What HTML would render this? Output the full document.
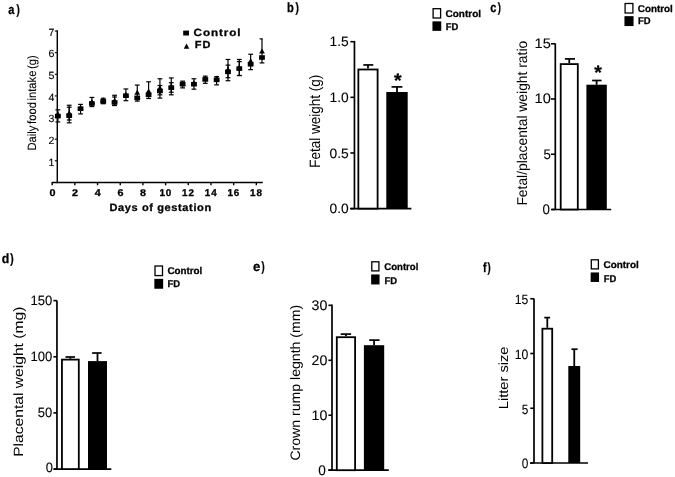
<!DOCTYPE html>
<html><head><meta charset="utf-8"><style>
html,body{margin:0;padding:0;background:#fff;}
body{width:675px;height:477px;overflow:hidden;}
svg{display:block;filter:blur(0.35px);}
text{font-family:"Liberation Sans", sans-serif;text-rendering:geometricPrecision;}
</style></head><body>
<svg width="675" height="477" viewBox="0 0 675 477">
<rect width="675" height="477" fill="#fff"/>
<text x="8.18" y="13.60" font-size="13.3" font-weight="bold" stroke="#000" stroke-width="0.28" text-anchor="start" textLength="6.15" lengthAdjust="spacingAndGlyphs" fill="#000">a</text>
<text x="16.59" y="13.60" font-size="13.3" font-weight="bold" stroke="#000" stroke-width="0.28" text-anchor="start" textLength="3.30" lengthAdjust="spacingAndGlyphs" fill="#000">)</text>
<line x1="57.30" y1="30.20" x2="57.30" y2="183.20" stroke="#000" stroke-width="1.45"/>
<line x1="51.60" y1="182.40" x2="262.80" y2="182.40" stroke="#000" stroke-width="1.5"/>
<line x1="54.80" y1="160.78" x2="57.30" y2="160.78" stroke="#000" stroke-width="1.1"/>
<text x="54.40" y="165.58" font-size="10.4" stroke="#000" stroke-width="0.1" text-anchor="end" textLength="5.90" lengthAdjust="spacingAndGlyphs" fill="#000">1</text>
<line x1="54.80" y1="139.16" x2="57.30" y2="139.16" stroke="#000" stroke-width="1.1"/>
<text x="54.40" y="143.96" font-size="10.4" stroke="#000" stroke-width="0.1" text-anchor="end" textLength="5.90" lengthAdjust="spacingAndGlyphs" fill="#000">2</text>
<line x1="54.80" y1="117.54" x2="57.30" y2="117.54" stroke="#000" stroke-width="1.1"/>
<text x="54.40" y="122.34" font-size="10.4" stroke="#000" stroke-width="0.1" text-anchor="end" textLength="5.90" lengthAdjust="spacingAndGlyphs" fill="#000">3</text>
<line x1="54.80" y1="95.92" x2="57.30" y2="95.92" stroke="#000" stroke-width="1.1"/>
<text x="54.40" y="100.72" font-size="10.4" stroke="#000" stroke-width="0.1" text-anchor="end" textLength="5.90" lengthAdjust="spacingAndGlyphs" fill="#000">4</text>
<line x1="54.80" y1="74.30" x2="57.30" y2="74.30" stroke="#000" stroke-width="1.1"/>
<text x="54.40" y="79.10" font-size="10.4" stroke="#000" stroke-width="0.1" text-anchor="end" textLength="5.90" lengthAdjust="spacingAndGlyphs" fill="#000">5</text>
<line x1="54.80" y1="52.68" x2="57.30" y2="52.68" stroke="#000" stroke-width="1.1"/>
<text x="54.40" y="57.48" font-size="10.4" stroke="#000" stroke-width="0.1" text-anchor="end" textLength="5.90" lengthAdjust="spacingAndGlyphs" fill="#000">6</text>
<line x1="54.80" y1="31.06" x2="57.30" y2="31.06" stroke="#000" stroke-width="1.1"/>
<text x="54.40" y="35.86" font-size="10.4" stroke="#000" stroke-width="0.1" text-anchor="end" textLength="5.90" lengthAdjust="spacingAndGlyphs" fill="#000">7</text>
<line x1="52.20" y1="182.50" x2="52.20" y2="185.30" stroke="#000" stroke-width="1.4"/>
<text x="52.40" y="195.50" font-size="9.8" font-weight="bold" stroke="#000" stroke-width="0.3" text-anchor="middle" textLength="6.00" lengthAdjust="spacingAndGlyphs" fill="#000">0</text>
<line x1="74.88" y1="182.50" x2="74.88" y2="185.30" stroke="#000" stroke-width="1.4"/>
<text x="75.08" y="195.50" font-size="9.8" font-weight="bold" stroke="#000" stroke-width="0.3" text-anchor="middle" textLength="6.00" lengthAdjust="spacingAndGlyphs" fill="#000">2</text>
<line x1="97.56" y1="182.50" x2="97.56" y2="185.30" stroke="#000" stroke-width="1.4"/>
<text x="97.76" y="195.50" font-size="9.8" font-weight="bold" stroke="#000" stroke-width="0.3" text-anchor="middle" textLength="6.00" lengthAdjust="spacingAndGlyphs" fill="#000">4</text>
<line x1="120.24" y1="182.50" x2="120.24" y2="185.30" stroke="#000" stroke-width="1.4"/>
<text x="120.44" y="195.50" font-size="9.8" font-weight="bold" stroke="#000" stroke-width="0.3" text-anchor="middle" textLength="6.00" lengthAdjust="spacingAndGlyphs" fill="#000">6</text>
<line x1="142.92" y1="182.50" x2="142.92" y2="185.30" stroke="#000" stroke-width="1.4"/>
<text x="143.12" y="195.50" font-size="9.8" font-weight="bold" stroke="#000" stroke-width="0.3" text-anchor="middle" textLength="6.00" lengthAdjust="spacingAndGlyphs" fill="#000">8</text>
<line x1="165.60" y1="182.50" x2="165.60" y2="185.30" stroke="#000" stroke-width="1.4"/>
<text x="165.80" y="195.50" font-size="9.8" font-weight="bold" letter-spacing="0.9" stroke="#000" stroke-width="0.3" text-anchor="middle" textLength="12.80" lengthAdjust="spacingAndGlyphs" fill="#000">10</text>
<line x1="188.28" y1="182.50" x2="188.28" y2="185.30" stroke="#000" stroke-width="1.4"/>
<text x="188.48" y="195.50" font-size="9.8" font-weight="bold" letter-spacing="0.9" stroke="#000" stroke-width="0.3" text-anchor="middle" textLength="12.80" lengthAdjust="spacingAndGlyphs" fill="#000">12</text>
<line x1="210.96" y1="182.50" x2="210.96" y2="185.30" stroke="#000" stroke-width="1.4"/>
<text x="211.16" y="195.50" font-size="9.8" font-weight="bold" letter-spacing="0.9" stroke="#000" stroke-width="0.3" text-anchor="middle" textLength="12.80" lengthAdjust="spacingAndGlyphs" fill="#000">14</text>
<line x1="233.64" y1="182.50" x2="233.64" y2="185.30" stroke="#000" stroke-width="1.4"/>
<text x="233.84" y="195.50" font-size="9.8" font-weight="bold" letter-spacing="0.9" stroke="#000" stroke-width="0.3" text-anchor="middle" textLength="12.80" lengthAdjust="spacingAndGlyphs" fill="#000">16</text>
<line x1="256.32" y1="182.50" x2="256.32" y2="185.30" stroke="#000" stroke-width="1.4"/>
<text x="256.52" y="195.50" font-size="9.8" font-weight="bold" letter-spacing="0.9" stroke="#000" stroke-width="0.3" text-anchor="middle" textLength="12.80" lengthAdjust="spacingAndGlyphs" fill="#000">18</text>
<text x="109.40" y="210.90" font-size="10.6" font-weight="bold" stroke="#000" stroke-width="0.28" letter-spacing="0.6" text-anchor="start" textLength="102.40" lengthAdjust="spacingAndGlyphs" fill="#000">Days of gestation</text>
<text transform="translate(35.80,150.50) rotate(-90)" x="0" y="0" font-size="12.0" word-spacing="-1.6" stroke="#000" stroke-width="0.1" text-anchor="start" textLength="95.30" lengthAdjust="spacingAndGlyphs" fill="#000">Daily food intake (g)</text>
<rect x="183.20" y="30.60" width="5.80" height="4.90" fill="#000"/>
<polygon points="186.5,43.6 183.8,48.8 189.3,48.8" fill="#000"/>
<text x="193.60" y="36.10" font-size="10.4" font-weight="bold" stroke="#000" stroke-width="0.28" letter-spacing="0.8" text-anchor="start" textLength="47.80" lengthAdjust="spacingAndGlyphs" fill="#000">Control</text>
<text x="194.80" y="48.40" font-size="10.2" font-weight="bold" stroke="#000" stroke-width="0.28" letter-spacing="0.8" text-anchor="start" textLength="16.40" lengthAdjust="spacingAndGlyphs" fill="#000">FD</text>
<line x1="57.87" y1="109.81" x2="57.87" y2="121.96" stroke="#000" stroke-width="1.2"/>
<line x1="55.47" y1="109.81" x2="60.27" y2="109.81" stroke="#000" stroke-width="1.2"/>
<line x1="55.47" y1="121.96" x2="60.27" y2="121.96" stroke="#000" stroke-width="1.2"/>
<rect x="54.97" y="113.80" width="5.80" height="4.60" fill="#000"/>
<polygon points="57.87,111.35 54.97,116.35 60.77,116.35" fill="#000"/>
<line x1="69.21" y1="107.20" x2="69.21" y2="120.00" stroke="#000" stroke-width="1.2"/>
<line x1="66.81" y1="107.20" x2="71.61" y2="107.20" stroke="#000" stroke-width="1.2"/>
<line x1="66.81" y1="120.00" x2="71.61" y2="120.00" stroke="#000" stroke-width="1.2"/>
<line x1="69.21" y1="105.25" x2="69.21" y2="122.83" stroke="#000" stroke-width="1.2"/>
<line x1="66.81" y1="105.25" x2="71.61" y2="105.25" stroke="#000" stroke-width="1.2"/>
<line x1="66.81" y1="122.83" x2="71.61" y2="122.83" stroke="#000" stroke-width="1.2"/>
<rect x="66.31" y="113.36" width="5.80" height="4.60" fill="#000"/>
<polygon points="69.21,110.26 66.31,115.26 72.11,115.26" fill="#000"/>
<line x1="80.55" y1="104.38" x2="80.55" y2="113.93" stroke="#000" stroke-width="1.2"/>
<line x1="78.15" y1="104.38" x2="82.95" y2="104.38" stroke="#000" stroke-width="1.2"/>
<line x1="78.15" y1="113.93" x2="82.95" y2="113.93" stroke="#000" stroke-width="1.2"/>
<rect x="77.65" y="106.42" width="5.80" height="4.60" fill="#000"/>
<polygon points="80.55,104.84 77.65,109.84 83.45,109.84" fill="#000"/>
<line x1="91.89" y1="97.44" x2="91.89" y2="106.55" stroke="#000" stroke-width="1.2"/>
<line x1="89.49" y1="97.44" x2="94.29" y2="97.44" stroke="#000" stroke-width="1.2"/>
<line x1="89.49" y1="106.55" x2="94.29" y2="106.55" stroke="#000" stroke-width="1.2"/>
<rect x="88.99" y="101.21" width="5.80" height="4.60" fill="#000"/>
<polygon points="91.89,98.98 88.99,103.98 94.79,103.98" fill="#000"/>
<line x1="103.23" y1="98.30" x2="103.23" y2="103.73" stroke="#000" stroke-width="1.2"/>
<line x1="100.83" y1="98.30" x2="105.63" y2="98.30" stroke="#000" stroke-width="1.2"/>
<line x1="100.83" y1="103.73" x2="105.63" y2="103.73" stroke="#000" stroke-width="1.2"/>
<rect x="100.33" y="99.04" width="5.80" height="4.60" fill="#000"/>
<polygon points="103.23,97.24 100.33,102.24 106.13,102.24" fill="#000"/>
<line x1="114.57" y1="97.00" x2="114.57" y2="105.47" stroke="#000" stroke-width="1.2"/>
<line x1="112.17" y1="97.00" x2="116.97" y2="97.00" stroke="#000" stroke-width="1.2"/>
<line x1="112.17" y1="105.47" x2="116.97" y2="105.47" stroke="#000" stroke-width="1.2"/>
<line x1="114.57" y1="95.27" x2="114.57" y2="105.47" stroke="#000" stroke-width="1.2"/>
<line x1="112.17" y1="95.27" x2="116.97" y2="95.27" stroke="#000" stroke-width="1.2"/>
<line x1="112.17" y1="105.47" x2="116.97" y2="105.47" stroke="#000" stroke-width="1.2"/>
<rect x="111.67" y="100.13" width="5.80" height="4.60" fill="#000"/>
<polygon points="114.57,97.67 111.67,102.67 117.47,102.67" fill="#000"/>
<line x1="125.91" y1="88.97" x2="125.91" y2="100.69" stroke="#000" stroke-width="1.2"/>
<line x1="123.51" y1="88.97" x2="128.31" y2="88.97" stroke="#000" stroke-width="1.2"/>
<line x1="123.51" y1="100.69" x2="128.31" y2="100.69" stroke="#000" stroke-width="1.2"/>
<rect x="123.01" y="93.40" width="5.80" height="4.60" fill="#000"/>
<polygon points="125.91,91.82 123.01,96.82 128.81,96.82" fill="#000"/>
<line x1="137.25" y1="85.07" x2="137.25" y2="101.12" stroke="#000" stroke-width="1.2"/>
<line x1="134.85" y1="85.07" x2="139.65" y2="85.07" stroke="#000" stroke-width="1.2"/>
<line x1="134.85" y1="101.12" x2="139.65" y2="101.12" stroke="#000" stroke-width="1.2"/>
<rect x="134.35" y="95.57" width="5.80" height="4.60" fill="#000"/>
<polygon points="137.25,89.64 134.35,94.64 140.15,94.64" fill="#000"/>
<line x1="148.59" y1="81.81" x2="148.59" y2="98.52" stroke="#000" stroke-width="1.2"/>
<line x1="146.19" y1="81.81" x2="150.99" y2="81.81" stroke="#000" stroke-width="1.2"/>
<line x1="146.19" y1="98.52" x2="150.99" y2="98.52" stroke="#000" stroke-width="1.2"/>
<rect x="145.69" y="92.53" width="5.80" height="4.60" fill="#000"/>
<polygon points="148.59,88.56 145.69,93.56 151.49,93.56" fill="#000"/>
<line x1="159.93" y1="85.50" x2="159.93" y2="94.83" stroke="#000" stroke-width="1.2"/>
<line x1="157.53" y1="85.50" x2="162.33" y2="85.50" stroke="#000" stroke-width="1.2"/>
<line x1="157.53" y1="94.83" x2="162.33" y2="94.83" stroke="#000" stroke-width="1.2"/>
<line x1="159.93" y1="78.77" x2="159.93" y2="98.09" stroke="#000" stroke-width="1.2"/>
<line x1="157.53" y1="78.77" x2="162.33" y2="78.77" stroke="#000" stroke-width="1.2"/>
<line x1="157.53" y1="98.09" x2="162.33" y2="98.09" stroke="#000" stroke-width="1.2"/>
<rect x="157.03" y="88.63" width="5.80" height="4.60" fill="#000"/>
<polygon points="159.93,85.31 157.03,90.31 162.83,90.31" fill="#000"/>
<line x1="171.27" y1="77.91" x2="171.27" y2="92.23" stroke="#000" stroke-width="1.2"/>
<line x1="168.87" y1="77.91" x2="173.67" y2="77.91" stroke="#000" stroke-width="1.2"/>
<line x1="168.87" y1="92.23" x2="173.67" y2="92.23" stroke="#000" stroke-width="1.2"/>
<line x1="171.27" y1="82.68" x2="171.27" y2="94.83" stroke="#000" stroke-width="1.2"/>
<line x1="168.87" y1="82.68" x2="173.67" y2="82.68" stroke="#000" stroke-width="1.2"/>
<line x1="168.87" y1="94.83" x2="173.67" y2="94.83" stroke="#000" stroke-width="1.2"/>
<rect x="168.37" y="85.37" width="5.80" height="4.60" fill="#000"/>
<polygon points="171.27,83.14 168.37,88.14 174.17,88.14" fill="#000"/>
<line x1="182.61" y1="81.16" x2="182.61" y2="87.89" stroke="#000" stroke-width="1.2"/>
<line x1="180.21" y1="81.16" x2="185.01" y2="81.16" stroke="#000" stroke-width="1.2"/>
<line x1="180.21" y1="87.89" x2="185.01" y2="87.89" stroke="#000" stroke-width="1.2"/>
<rect x="179.71" y="81.90" width="5.80" height="4.60" fill="#000"/>
<polygon points="182.61,80.97 179.71,85.97 185.51,85.97" fill="#000"/>
<line x1="193.95" y1="78.77" x2="193.95" y2="89.19" stroke="#000" stroke-width="1.2"/>
<line x1="191.55" y1="78.77" x2="196.35" y2="78.77" stroke="#000" stroke-width="1.2"/>
<line x1="191.55" y1="89.19" x2="196.35" y2="89.19" stroke="#000" stroke-width="1.2"/>
<rect x="191.05" y="81.90" width="5.80" height="4.60" fill="#000"/>
<polygon points="193.95,79.88 191.05,84.88 196.85,84.88" fill="#000"/>
<line x1="205.29" y1="76.17" x2="205.29" y2="83.33" stroke="#000" stroke-width="1.2"/>
<line x1="202.89" y1="76.17" x2="207.69" y2="76.17" stroke="#000" stroke-width="1.2"/>
<line x1="202.89" y1="83.33" x2="207.69" y2="83.33" stroke="#000" stroke-width="1.2"/>
<rect x="202.39" y="77.12" width="5.80" height="4.60" fill="#000"/>
<polygon points="205.29,75.54 202.39,80.54 208.19,80.54" fill="#000"/>
<line x1="216.63" y1="76.60" x2="216.63" y2="84.85" stroke="#000" stroke-width="1.2"/>
<line x1="214.23" y1="76.60" x2="219.03" y2="76.60" stroke="#000" stroke-width="1.2"/>
<line x1="214.23" y1="84.85" x2="219.03" y2="84.85" stroke="#000" stroke-width="1.2"/>
<rect x="213.73" y="77.56" width="5.80" height="4.60" fill="#000"/>
<polygon points="216.63,75.54 213.73,80.54 219.53,80.54" fill="#000"/>
<line x1="227.97" y1="65.10" x2="227.97" y2="77.69" stroke="#000" stroke-width="1.2"/>
<line x1="225.57" y1="65.10" x2="230.37" y2="65.10" stroke="#000" stroke-width="1.2"/>
<line x1="225.57" y1="77.69" x2="230.37" y2="77.69" stroke="#000" stroke-width="1.2"/>
<line x1="227.97" y1="59.46" x2="227.97" y2="80.73" stroke="#000" stroke-width="1.2"/>
<line x1="225.57" y1="59.46" x2="230.37" y2="59.46" stroke="#000" stroke-width="1.2"/>
<line x1="225.57" y1="80.73" x2="230.37" y2="80.73" stroke="#000" stroke-width="1.2"/>
<rect x="225.07" y="69.53" width="5.80" height="4.60" fill="#000"/>
<polygon points="227.97,66.86 225.07,71.86 230.87,71.86" fill="#000"/>
<line x1="239.31" y1="61.63" x2="239.31" y2="75.52" stroke="#000" stroke-width="1.2"/>
<line x1="236.91" y1="61.63" x2="241.71" y2="61.63" stroke="#000" stroke-width="1.2"/>
<line x1="236.91" y1="75.52" x2="241.71" y2="75.52" stroke="#000" stroke-width="1.2"/>
<line x1="239.31" y1="59.46" x2="239.31" y2="75.52" stroke="#000" stroke-width="1.2"/>
<line x1="236.91" y1="59.46" x2="241.71" y2="59.46" stroke="#000" stroke-width="1.2"/>
<line x1="236.91" y1="75.52" x2="241.71" y2="75.52" stroke="#000" stroke-width="1.2"/>
<rect x="236.41" y="66.28" width="5.80" height="4.60" fill="#000"/>
<polygon points="239.31,64.69 236.41,69.69 242.21,69.69" fill="#000"/>
<line x1="250.65" y1="54.25" x2="250.65" y2="69.66" stroke="#000" stroke-width="1.2"/>
<line x1="248.25" y1="54.25" x2="253.05" y2="54.25" stroke="#000" stroke-width="1.2"/>
<line x1="248.25" y1="69.66" x2="253.05" y2="69.66" stroke="#000" stroke-width="1.2"/>
<rect x="247.75" y="61.94" width="5.80" height="4.60" fill="#000"/>
<polygon points="250.65,58.18 247.75,63.18 253.55,63.18" fill="#000"/>
<line x1="261.99" y1="38.85" x2="261.99" y2="62.93" stroke="#000" stroke-width="1.2"/>
<line x1="259.59" y1="38.85" x2="262.59" y2="38.85" stroke="#000" stroke-width="1.2"/>
<line x1="259.59" y1="62.93" x2="264.39" y2="62.93" stroke="#000" stroke-width="1.2"/>
<rect x="259.09" y="55.21" width="5.80" height="4.60" fill="#000"/>
<polygon points="261.99,48.42 259.09,53.42 264.89,53.42" fill="#000"/>
<line x1="354.45" y1="41.00" x2="354.45" y2="208.60" stroke="#000" stroke-width="1.7"/>
<line x1="350.20" y1="208.60" x2="411.40" y2="208.60" stroke="#000" stroke-width="1.7"/>
<line x1="350.40" y1="208.60" x2="354.45" y2="208.60" stroke="#000" stroke-width="1.6"/>
<text x="348.80" y="213.27" font-size="13.6" stroke="#000" stroke-width="0.1" text-anchor="end" textLength="19.20" lengthAdjust="spacingAndGlyphs" fill="#000">0.0</text>
<line x1="350.40" y1="152.97" x2="354.45" y2="152.97" stroke="#000" stroke-width="1.6"/>
<text x="348.80" y="157.63" font-size="13.6" stroke="#000" stroke-width="0.1" text-anchor="end" textLength="19.20" lengthAdjust="spacingAndGlyphs" fill="#000">0.5</text>
<line x1="350.40" y1="97.33" x2="354.45" y2="97.33" stroke="#000" stroke-width="1.6"/>
<text x="348.80" y="102.00" font-size="13.6" stroke="#000" stroke-width="0.1" text-anchor="end" textLength="19.20" lengthAdjust="spacingAndGlyphs" fill="#000">1.0</text>
<line x1="350.40" y1="41.69" x2="354.45" y2="41.69" stroke="#000" stroke-width="1.6"/>
<text x="348.80" y="46.36" font-size="13.6" stroke="#000" stroke-width="0.1" text-anchor="end" textLength="19.20" lengthAdjust="spacingAndGlyphs" fill="#000">1.5</text>
<line x1="367.98" y1="64.95" x2="367.98" y2="68.60" stroke="#000" stroke-width="1.8"/>
<line x1="363.30" y1="64.95" x2="373.30" y2="64.95" stroke="#000" stroke-width="1.7"/>
<rect x="358.35" y="69.50" width="19.25" height="139.10" fill="#fff" stroke="#000" stroke-width="1.8"/>
<line x1="397.00" y1="86.90" x2="397.00" y2="92.00" stroke="#000" stroke-width="1.8"/>
<line x1="391.50" y1="86.90" x2="402.40" y2="86.90" stroke="#000" stroke-width="1.7"/>
<rect x="386.30" y="92.00" width="21.40" height="116.60" fill="#000"/>
<text transform="translate(320.00,167.70) rotate(-90)" x="0" y="0" font-size="15.0" text-anchor="start" textLength="93.00" lengthAdjust="spacingAndGlyphs" fill="#000">Fetal weight (g)</text>
<text x="287.07" y="11.80" font-size="13.3" font-weight="bold" stroke="#000" stroke-width="0.28" text-anchor="start" textLength="6.79" lengthAdjust="spacingAndGlyphs" fill="#000">b</text>
<text x="295.59" y="11.80" font-size="13.3" font-weight="bold" stroke="#000" stroke-width="0.28" text-anchor="start" textLength="3.42" lengthAdjust="spacingAndGlyphs" fill="#000">)</text>
<rect x="433.10" y="8.70" width="7.50" height="9.30" fill="#fff" stroke="#000" stroke-width="1.3"/>
<rect x="432.45" y="21.35" width="8.80" height="9.50" fill="#000"/>
<text x="445.60" y="16.60" font-size="9.8" font-weight="bold" stroke="#000" stroke-width="0.28" text-anchor="start" textLength="35.40" lengthAdjust="spacingAndGlyphs" fill="#000">Control</text>
<text x="445.80" y="29.50" font-size="9.8" font-weight="bold" stroke="#000" stroke-width="0.28" text-anchor="start" textLength="12.60" lengthAdjust="spacingAndGlyphs" fill="#000">FD</text>
<text x="397.70" y="86.80" font-size="19.5" font-weight="bold" stroke="#000" stroke-width="0.28" text-anchor="middle" fill="#000">*</text>
<line x1="555.30" y1="43.50" x2="555.30" y2="209.50" stroke="#000" stroke-width="1.7"/>
<line x1="551.80" y1="209.50" x2="611.20" y2="209.50" stroke="#000" stroke-width="1.7"/>
<line x1="551.00" y1="209.50" x2="555.30" y2="209.50" stroke="#000" stroke-width="1.6"/>
<text x="549.80" y="213.88" font-size="13.9" stroke="#000" stroke-width="0.1" text-anchor="end" textLength="7.40" lengthAdjust="spacingAndGlyphs" fill="#000">0</text>
<line x1="551.00" y1="154.25" x2="555.30" y2="154.25" stroke="#000" stroke-width="1.6"/>
<text x="550.80" y="158.63" font-size="13.9" stroke="#000" stroke-width="0.1" text-anchor="end" textLength="7.40" lengthAdjust="spacingAndGlyphs" fill="#000">5</text>
<line x1="551.00" y1="99.00" x2="555.30" y2="99.00" stroke="#000" stroke-width="1.6"/>
<text x="550.80" y="103.38" font-size="13.9" stroke="#000" stroke-width="0.1" text-anchor="end" textLength="16.30" lengthAdjust="spacingAndGlyphs" fill="#000">10</text>
<line x1="551.00" y1="43.75" x2="555.30" y2="43.75" stroke="#000" stroke-width="1.6"/>
<text x="550.80" y="48.13" font-size="13.9" stroke="#000" stroke-width="0.1" text-anchor="end" textLength="16.30" lengthAdjust="spacingAndGlyphs" fill="#000">15</text>
<line x1="569.25" y1="58.90" x2="569.25" y2="63.20" stroke="#000" stroke-width="1.8"/>
<line x1="564.90" y1="58.90" x2="575.00" y2="58.90" stroke="#000" stroke-width="1.7"/>
<rect x="560.70" y="64.10" width="17.10" height="145.40" fill="#fff" stroke="#000" stroke-width="1.8"/>
<line x1="596.60" y1="80.50" x2="596.60" y2="84.70" stroke="#000" stroke-width="1.8"/>
<line x1="592.10" y1="80.50" x2="601.60" y2="80.50" stroke="#000" stroke-width="1.7"/>
<rect x="586.40" y="84.70" width="20.40" height="124.80" fill="#000"/>
<text transform="translate(527.30,205.60) rotate(-90)" x="0" y="0" font-size="14.2" text-anchor="start" textLength="164.80" lengthAdjust="spacingAndGlyphs" fill="#000">Fetal/placental weight ratio</text>
<text x="490.17" y="11.90" font-size="13.3" font-weight="bold" stroke="#000" stroke-width="0.28" text-anchor="start" textLength="6.16" lengthAdjust="spacingAndGlyphs" fill="#000">c</text>
<text x="497.69" y="11.90" font-size="13.3" font-weight="bold" stroke="#000" stroke-width="0.28" text-anchor="start" textLength="3.19" lengthAdjust="spacingAndGlyphs" fill="#000">)</text>
<rect x="625.10" y="3.50" width="7.80" height="9.50" fill="#fff" stroke="#000" stroke-width="1.3"/>
<rect x="624.45" y="16.15" width="9.10" height="9.90" fill="#000"/>
<text x="637.80" y="11.80" font-size="9.8" font-weight="bold" stroke="#000" stroke-width="0.28" text-anchor="start" textLength="34.90" lengthAdjust="spacingAndGlyphs" fill="#000">Control</text>
<text x="638.00" y="24.20" font-size="9.8" font-weight="bold" stroke="#000" stroke-width="0.28" text-anchor="start" textLength="12.60" lengthAdjust="spacingAndGlyphs" fill="#000">FD</text>
<text x="598.00" y="78.70" font-size="19.5" font-weight="bold" stroke="#000" stroke-width="0.28" text-anchor="middle" fill="#000">*</text>
<line x1="56.95" y1="300.40" x2="56.95" y2="469.10" stroke="#000" stroke-width="1.7"/>
<line x1="53.80" y1="469.10" x2="111.30" y2="469.10" stroke="#000" stroke-width="1.7"/>
<line x1="53.40" y1="469.10" x2="56.95" y2="469.10" stroke="#000" stroke-width="1.6"/>
<text x="52.90" y="472.47" font-size="13.6" stroke="#000" stroke-width="0.1" text-anchor="end" textLength="7.20" lengthAdjust="spacingAndGlyphs" fill="#000">0</text>
<line x1="53.40" y1="412.94" x2="56.95" y2="412.94" stroke="#000" stroke-width="1.6"/>
<text x="52.20" y="417.30" font-size="13.6" stroke="#000" stroke-width="0.1" text-anchor="end" textLength="14.40" lengthAdjust="spacingAndGlyphs" fill="#000">50</text>
<line x1="53.40" y1="356.77" x2="56.95" y2="356.77" stroke="#000" stroke-width="1.6"/>
<text x="52.20" y="361.14" font-size="13.6" stroke="#000" stroke-width="0.1" text-anchor="end" textLength="21.80" lengthAdjust="spacingAndGlyphs" fill="#000">100</text>
<line x1="53.40" y1="300.61" x2="56.95" y2="300.61" stroke="#000" stroke-width="1.6"/>
<text x="52.20" y="305.37" font-size="13.6" stroke="#000" stroke-width="0.1" text-anchor="end" textLength="21.80" lengthAdjust="spacingAndGlyphs" fill="#000">150</text>
<line x1="70.38" y1="357.00" x2="70.38" y2="358.70" stroke="#000" stroke-width="1.8"/>
<line x1="65.50" y1="357.00" x2="75.00" y2="357.00" stroke="#000" stroke-width="1.7"/>
<rect x="61.95" y="359.60" width="16.85" height="109.50" fill="#fff" stroke="#000" stroke-width="1.8"/>
<line x1="97.50" y1="353.00" x2="97.50" y2="361.10" stroke="#000" stroke-width="1.8"/>
<line x1="92.10" y1="353.00" x2="101.60" y2="353.00" stroke="#000" stroke-width="1.7"/>
<rect x="88.00" y="361.10" width="19.00" height="108.00" fill="#000"/>
<text transform="translate(22.70,456.80) rotate(-90)" x="0" y="0" font-size="13.4" text-anchor="start" textLength="150.20" lengthAdjust="spacingAndGlyphs" fill="#000">Placental weight (mg)</text>
<text x="1.70" y="262.60" font-size="13.3" font-weight="bold" stroke="#000" stroke-width="0.28" text-anchor="start" textLength="7.52" lengthAdjust="spacingAndGlyphs" fill="#000">d</text>
<text x="10.29" y="262.60" font-size="13.3" font-weight="bold" stroke="#000" stroke-width="0.28" text-anchor="start" textLength="3.42" lengthAdjust="spacingAndGlyphs" fill="#000">)</text>
<rect x="155.00" y="266.00" width="7.50" height="9.60" fill="#fff" stroke="#000" stroke-width="1.3"/>
<rect x="154.35" y="278.85" width="8.80" height="9.90" fill="#000"/>
<text x="167.40" y="274.00" font-size="9.8" font-weight="bold" stroke="#000" stroke-width="0.28" text-anchor="start" textLength="34.90" lengthAdjust="spacingAndGlyphs" fill="#000">Control</text>
<text x="167.60" y="286.90" font-size="9.8" font-weight="bold" stroke="#000" stroke-width="0.28" text-anchor="start" textLength="12.60" lengthAdjust="spacingAndGlyphs" fill="#000">FD</text>
<line x1="332.00" y1="304.50" x2="332.00" y2="470.20" stroke="#000" stroke-width="1.7"/>
<line x1="328.40" y1="470.20" x2="388.80" y2="470.20" stroke="#000" stroke-width="1.7"/>
<line x1="328.40" y1="470.20" x2="332.00" y2="470.20" stroke="#000" stroke-width="1.6"/>
<text x="325.90" y="474.58" font-size="13.9" stroke="#000" stroke-width="0.1" text-anchor="end" textLength="7.60" lengthAdjust="spacingAndGlyphs" fill="#000">0</text>
<line x1="328.40" y1="415.25" x2="332.00" y2="415.25" stroke="#000" stroke-width="1.6"/>
<text x="327.30" y="419.63" font-size="13.9" stroke="#000" stroke-width="0.1" text-anchor="end" textLength="15.80" lengthAdjust="spacingAndGlyphs" fill="#000">10</text>
<line x1="328.40" y1="360.30" x2="332.00" y2="360.30" stroke="#000" stroke-width="1.6"/>
<text x="327.30" y="364.68" font-size="13.9" stroke="#000" stroke-width="0.1" text-anchor="end" textLength="15.80" lengthAdjust="spacingAndGlyphs" fill="#000">20</text>
<line x1="328.40" y1="305.35" x2="332.00" y2="305.35" stroke="#000" stroke-width="1.6"/>
<text x="327.30" y="309.73" font-size="13.9" stroke="#000" stroke-width="0.1" text-anchor="end" textLength="15.80" lengthAdjust="spacingAndGlyphs" fill="#000">30</text>
<line x1="345.95" y1="334.10" x2="345.95" y2="336.30" stroke="#000" stroke-width="1.8"/>
<line x1="340.70" y1="334.10" x2="351.10" y2="334.10" stroke="#000" stroke-width="1.7"/>
<rect x="336.80" y="337.20" width="18.30" height="133.00" fill="#fff" stroke="#000" stroke-width="1.8"/>
<line x1="374.05" y1="340.10" x2="374.05" y2="345.20" stroke="#000" stroke-width="1.8"/>
<line x1="369.20" y1="340.10" x2="379.60" y2="340.10" stroke="#000" stroke-width="1.7"/>
<rect x="363.90" y="345.20" width="20.30" height="125.00" fill="#000"/>
<text transform="translate(300.40,460.60) rotate(-90)" x="0" y="0" font-size="13.7" text-anchor="start" textLength="155.80" lengthAdjust="spacingAndGlyphs" fill="#000">Crown rump legnth (mm)</text>
<text x="252.99" y="270.90" font-size="13.3" font-weight="bold" stroke="#000" stroke-width="0.28" text-anchor="start" textLength="7.26" lengthAdjust="spacingAndGlyphs" fill="#000">e</text>
<text x="261.49" y="270.90" font-size="13.3" font-weight="bold" stroke="#000" stroke-width="0.28" text-anchor="start" textLength="3.19" lengthAdjust="spacingAndGlyphs" fill="#000">)</text>
<rect x="371.80" y="261.80" width="7.10" height="9.10" fill="#fff" stroke="#000" stroke-width="1.3"/>
<rect x="371.15" y="274.45" width="8.40" height="10.00" fill="#000"/>
<text x="384.30" y="270.10" font-size="9.8" font-weight="bold" stroke="#000" stroke-width="0.28" text-anchor="start" textLength="34.00" lengthAdjust="spacingAndGlyphs" fill="#000">Control</text>
<text x="384.50" y="283.50" font-size="9.8" font-weight="bold" stroke="#000" stroke-width="0.28" text-anchor="start" textLength="12.60" lengthAdjust="spacingAndGlyphs" fill="#000">FD</text>
<line x1="534.00" y1="298.50" x2="534.00" y2="463.00" stroke="#000" stroke-width="1.7"/>
<line x1="530.00" y1="463.00" x2="588.00" y2="463.00" stroke="#000" stroke-width="1.7"/>
<line x1="530.30" y1="463.00" x2="534.00" y2="463.00" stroke="#000" stroke-width="1.6"/>
<text x="528.30" y="468.33" font-size="13.5" stroke="#000" stroke-width="0.1" text-anchor="end" textLength="6.60" lengthAdjust="spacingAndGlyphs" fill="#000">0</text>
<line x1="530.30" y1="408.25" x2="534.00" y2="408.25" stroke="#000" stroke-width="1.6"/>
<text x="528.30" y="413.58" font-size="13.5" stroke="#000" stroke-width="0.1" text-anchor="end" textLength="6.60" lengthAdjust="spacingAndGlyphs" fill="#000">5</text>
<line x1="530.30" y1="353.50" x2="534.00" y2="353.50" stroke="#000" stroke-width="1.6"/>
<text x="528.30" y="358.83" font-size="13.5" stroke="#000" stroke-width="0.1" text-anchor="end" textLength="13.60" lengthAdjust="spacingAndGlyphs" fill="#000">10</text>
<line x1="530.30" y1="298.75" x2="534.00" y2="298.75" stroke="#000" stroke-width="1.6"/>
<text x="528.30" y="304.08" font-size="13.5" stroke="#000" stroke-width="0.1" text-anchor="end" textLength="13.60" lengthAdjust="spacingAndGlyphs" fill="#000">15</text>
<line x1="547.30" y1="317.60" x2="547.30" y2="327.80" stroke="#000" stroke-width="1.8"/>
<line x1="544.30" y1="317.60" x2="550.10" y2="317.60" stroke="#000" stroke-width="1.7"/>
<rect x="542.40" y="328.70" width="9.80" height="134.30" fill="#fff" stroke="#000" stroke-width="1.8"/>
<line x1="574.25" y1="349.20" x2="574.25" y2="366.00" stroke="#000" stroke-width="1.8"/>
<line x1="571.40" y1="349.20" x2="577.60" y2="349.20" stroke="#000" stroke-width="1.7"/>
<rect x="568.30" y="366.00" width="11.90" height="97.00" fill="#000"/>
<text transform="translate(508.30,409.20) rotate(-90)" x="0" y="0" font-size="13.2" text-anchor="start" textLength="62.60" lengthAdjust="spacingAndGlyphs" fill="#000">Litter size</text>
<text x="483.02" y="271.60" font-size="13.3" font-weight="bold" stroke="#000" stroke-width="0.28" text-anchor="start" textLength="3.56" lengthAdjust="spacingAndGlyphs" fill="#000">f</text>
<text x="487.59" y="271.60" font-size="13.3" font-weight="bold" stroke="#000" stroke-width="0.28" text-anchor="start" textLength="3.19" lengthAdjust="spacingAndGlyphs" fill="#000">)</text>
<rect x="591.30" y="259.80" width="7.10" height="9.10" fill="#fff" stroke="#000" stroke-width="1.3"/>
<rect x="590.65" y="272.45" width="8.40" height="9.50" fill="#000"/>
<text x="603.50" y="268.00" font-size="9.8" font-weight="bold" stroke="#000" stroke-width="0.28" text-anchor="start" textLength="35.20" lengthAdjust="spacingAndGlyphs" fill="#000">Control</text>
<text x="603.70" y="281.50" font-size="9.8" font-weight="bold" stroke="#000" stroke-width="0.28" text-anchor="start" textLength="12.60" lengthAdjust="spacingAndGlyphs" fill="#000">FD</text>
</svg>
</body></html>
